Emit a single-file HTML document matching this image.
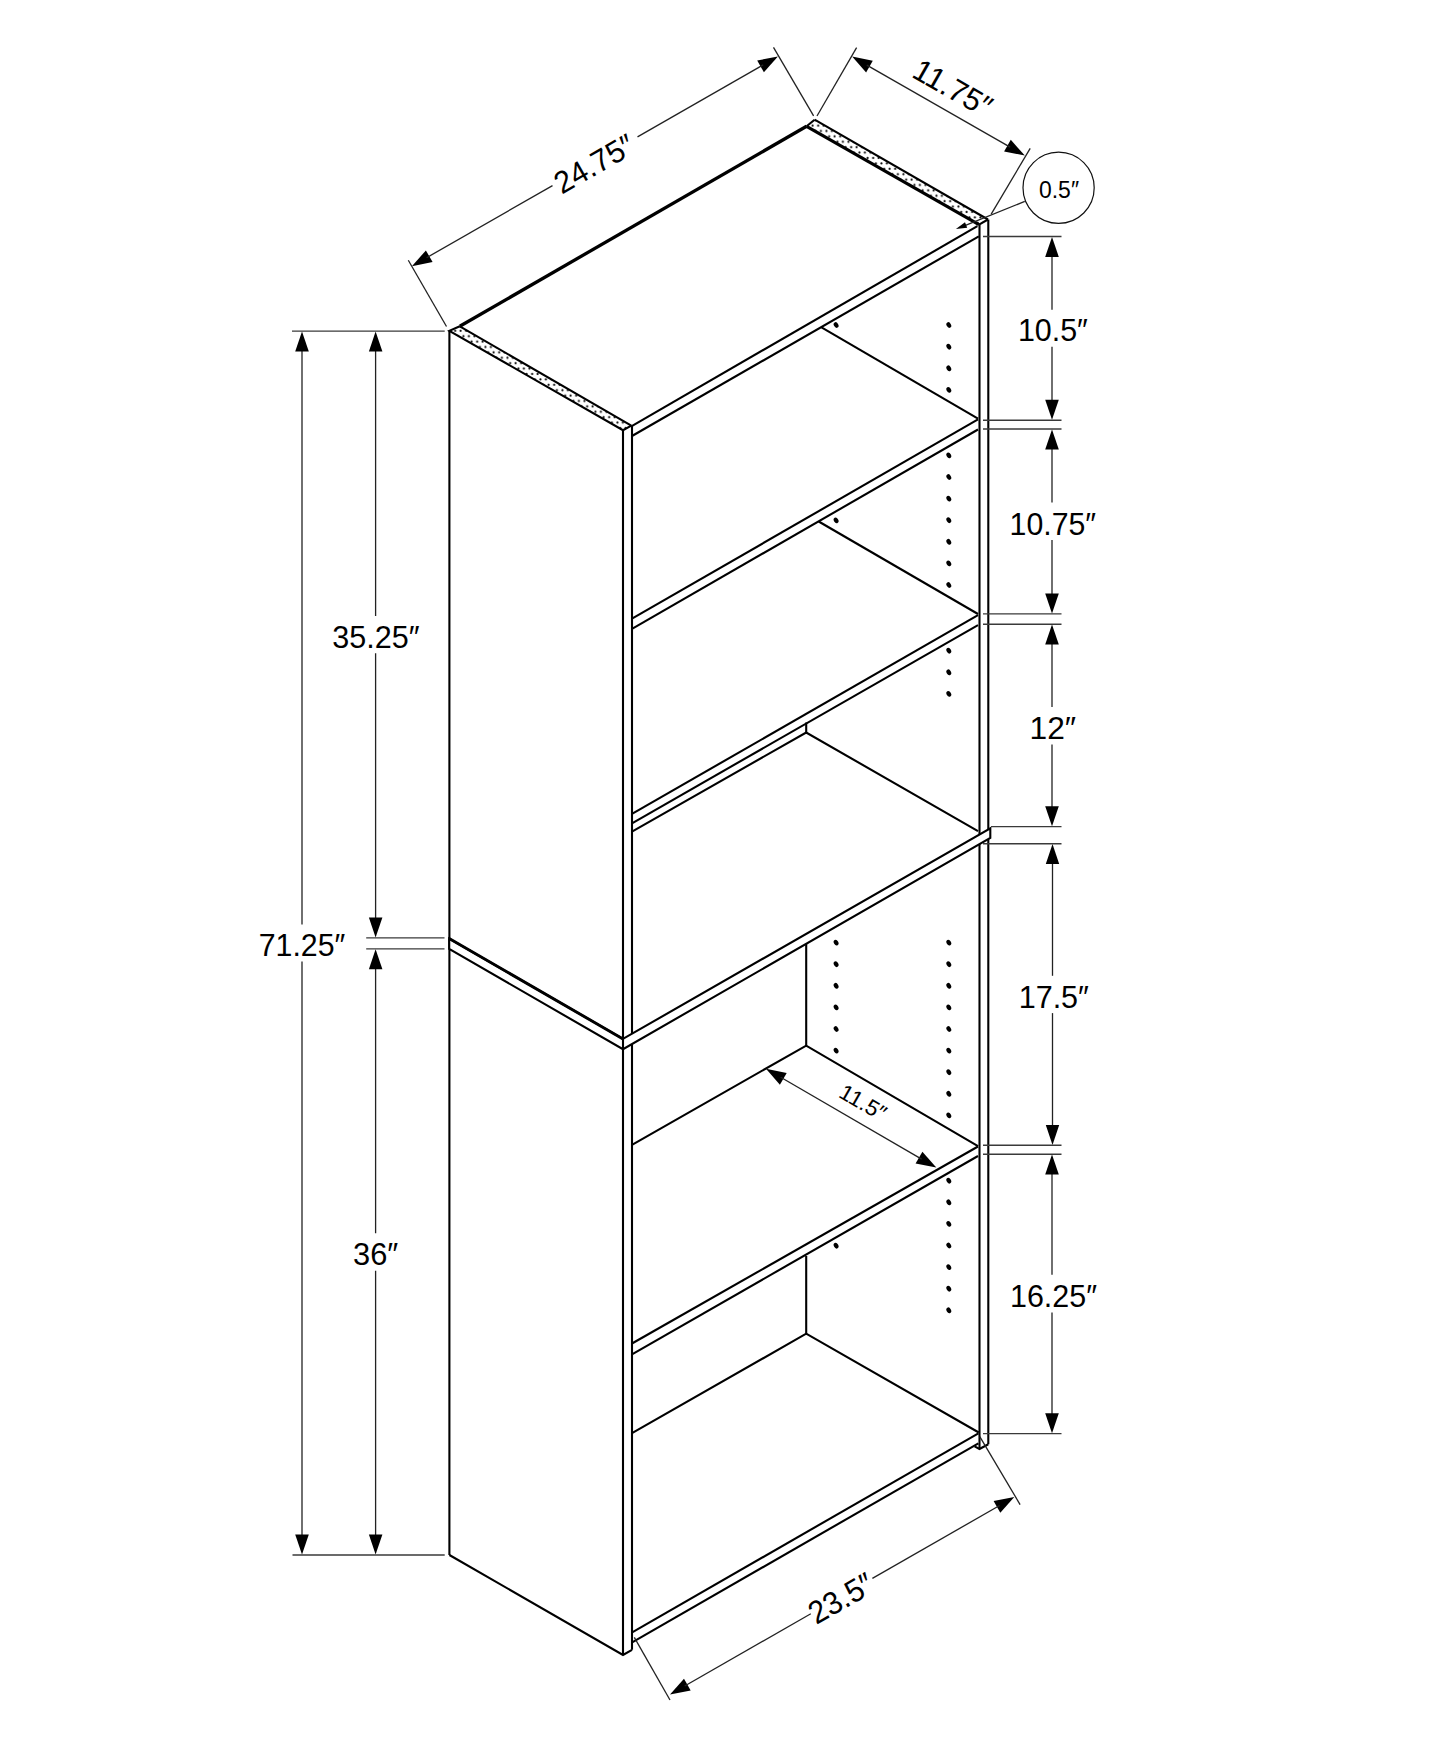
<!DOCTYPE html>
<html><head><meta charset="utf-8"><style>
html,body{margin:0;padding:0;background:#fff;}
svg{display:block;}
text{font-family:"Liberation Sans",sans-serif;fill:#000;}
</style></head><body>
<svg width="1445" height="1755" viewBox="0 0 1445 1755">
<rect width="1445" height="1755" fill="#fff"/>
<path d="M459.8,326.3 L449.4,330.8 L623.0,430.2 L631.3,425.7" fill="none" stroke="#000" stroke-width="2.1" stroke-linejoin="miter"/>
<line x1="459.8" y1="326.3" x2="631.3" y2="425.7" stroke="#000" stroke-width="2.1"/>
<line x1="814.6" y1="119.7" x2="988.0" y2="219.5" stroke="#000" stroke-width="2.1"/>
<line x1="806.6" y1="126.3" x2="979.0" y2="224.7" stroke="#000" stroke-width="3.2"/>
<line x1="806.6" y1="126.3" x2="814.6" y2="119.7" stroke="#000" stroke-width="2.1"/>
<line x1="979.0" y1="224.7" x2="988.0" y2="219.5" stroke="#000" stroke-width="2.1"/>
<line x1="459.8" y1="326.3" x2="806.6" y2="126.3" stroke="#000" stroke-width="3.3"/>
<defs><pattern id="dp" patternUnits="userSpaceOnUse" width="5.5" height="10.8" x="0" y="0"><circle cx="1.4" cy="1.4" r="1.05" fill="#000"/><circle cx="4.15" cy="6.8" r="1.05" fill="#000"/></pattern></defs>
<path d="M459.8,326.3 L631.3,425.7 L623.0,430.2 L449.4,330.8 Z" fill="url(#dp)" stroke="none"/>
<path d="M814.6,119.7 L988.0,219.5 L979.0,224.7 L806.6,126.3 Z" fill="url(#dp)" stroke="none"/>
<line x1="449.4" y1="330.8" x2="449.4" y2="1555.0" stroke="#000" stroke-width="2.1"/>
<path d="M449.4,1555.0 L623.0,1655.0 L632.0,1649.8" fill="none" stroke="#000" stroke-width="2.1" stroke-linejoin="miter"/>
<line x1="623.0" y1="430.2" x2="623.0" y2="1655.0" stroke="#000" stroke-width="2.1"/>
<line x1="632.0" y1="425.7" x2="632.0" y2="1649.8" stroke="#000" stroke-width="2.1"/>
<line x1="979.5" y1="224.7" x2="979.5" y2="1449.0" stroke="#000" stroke-width="2.1"/>
<line x1="988.3" y1="219.5" x2="988.3" y2="1444.3" stroke="#000" stroke-width="2.1"/>
<path d="M974.6,1446.4 L979.5,1449.0 L988.3,1444.3" fill="none" stroke="#000" stroke-width="2.1" stroke-linejoin="miter"/>
<line x1="631.3" y1="426.3" x2="977.4" y2="226.2" stroke="#000" stroke-width="2.1"/>
<line x1="632.0" y1="436.0" x2="978.8" y2="236.4" stroke="#000" stroke-width="2.1"/>
<line x1="632.0" y1="618.7" x2="978.0" y2="419.4" stroke="#000" stroke-width="2.1"/>
<line x1="632.0" y1="628.9" x2="978.0" y2="429.5" stroke="#000" stroke-width="2.1"/>
<line x1="821.5" y1="327.3" x2="978.0" y2="418.7" stroke="#000" stroke-width="2.1"/>
<line x1="632.0" y1="813.9" x2="978.0" y2="615.2" stroke="#000" stroke-width="2.1"/>
<line x1="632.0" y1="823.3" x2="978.0" y2="625.2" stroke="#000" stroke-width="2.1"/>
<line x1="818.7" y1="521.5" x2="978.0" y2="614.0" stroke="#000" stroke-width="2.1"/>
<path d="M632.0,831.6 L806.2,732.5 L978.0,831.1" fill="none" stroke="#000" stroke-width="2.1" stroke-linejoin="miter"/>
<line x1="806.2" y1="722.5" x2="806.2" y2="732.9" stroke="#000" stroke-width="2.1"/>
<path d="M449.2,938.6 L623,1038.9 L990.3,828.3 L990.3,838 L623,1049.2 L449.2,949 Z" fill="#fff" stroke="#000" stroke-width="2.1" stroke-linejoin="miter"/>
<line x1="623.0" y1="1038.9" x2="623.0" y2="1049.2" stroke="#000" stroke-width="2.1"/>
<line x1="449.2" y1="938.6" x2="623.0" y2="1038.9" stroke="#000" stroke-width="2.9"/>
<line x1="806.2" y1="944.0" x2="806.2" y2="1045.6" stroke="#000" stroke-width="2.1"/>
<path d="M632.0,1144.8 L806.2,1045.6 L978.0,1146.1" fill="none" stroke="#000" stroke-width="2.1" stroke-linejoin="miter"/>
<line x1="632.0" y1="1343.5" x2="978.0" y2="1146.5" stroke="#000" stroke-width="2.1"/>
<line x1="632.0" y1="1354.4" x2="978.0" y2="1156.0" stroke="#000" stroke-width="2.1"/>
<line x1="806.2" y1="1256.0" x2="806.2" y2="1333.7" stroke="#000" stroke-width="2.1"/>
<path d="M632.0,1433.2 L806.2,1333.7 L978.8,1432.5" fill="none" stroke="#000" stroke-width="2.1" stroke-linejoin="miter"/>
<line x1="632.6" y1="1632.1" x2="978.4" y2="1433.3" stroke="#000" stroke-width="2.1"/>
<line x1="632.6" y1="1642.1" x2="978.4" y2="1443.3" stroke="#000" stroke-width="2.1"/>
<ellipse cx="948.8" cy="325.0" rx="2.2" ry="3.0" transform="rotate(-30 948.8 325.0)" fill="#000"/>
<ellipse cx="948.8" cy="346.7" rx="2.2" ry="3.0" transform="rotate(-30 948.8 346.7)" fill="#000"/>
<ellipse cx="948.8" cy="368.3" rx="2.2" ry="3.0" transform="rotate(-30 948.8 368.3)" fill="#000"/>
<ellipse cx="948.8" cy="389.9" rx="2.2" ry="3.0" transform="rotate(-30 948.8 389.9)" fill="#000"/>
<ellipse cx="836.1" cy="325.0" rx="2.2" ry="3.0" transform="rotate(-30 836.1 325.0)" fill="#000"/>
<ellipse cx="948.8" cy="455.4" rx="2.2" ry="3.0" transform="rotate(-30 948.8 455.4)" fill="#000"/>
<ellipse cx="948.8" cy="477.0" rx="2.2" ry="3.0" transform="rotate(-30 948.8 477.0)" fill="#000"/>
<ellipse cx="948.8" cy="498.6" rx="2.2" ry="3.0" transform="rotate(-30 948.8 498.6)" fill="#000"/>
<ellipse cx="948.8" cy="520.2" rx="2.2" ry="3.0" transform="rotate(-30 948.8 520.2)" fill="#000"/>
<ellipse cx="948.8" cy="541.8" rx="2.2" ry="3.0" transform="rotate(-30 948.8 541.8)" fill="#000"/>
<ellipse cx="948.8" cy="563.4" rx="2.2" ry="3.0" transform="rotate(-30 948.8 563.4)" fill="#000"/>
<ellipse cx="948.8" cy="585.0" rx="2.2" ry="3.0" transform="rotate(-30 948.8 585.0)" fill="#000"/>
<ellipse cx="836.1" cy="520.4" rx="2.2" ry="3.0" transform="rotate(-30 836.1 520.4)" fill="#000"/>
<ellipse cx="948.8" cy="650.7" rx="2.2" ry="3.0" transform="rotate(-30 948.8 650.7)" fill="#000"/>
<ellipse cx="948.8" cy="672.3" rx="2.2" ry="3.0" transform="rotate(-30 948.8 672.3)" fill="#000"/>
<ellipse cx="948.8" cy="693.9" rx="2.2" ry="3.0" transform="rotate(-30 948.8 693.9)" fill="#000"/>
<ellipse cx="836.1" cy="942.6" rx="2.2" ry="3.0" transform="rotate(-30 836.1 942.6)" fill="#000"/>
<ellipse cx="836.1" cy="964.2" rx="2.2" ry="3.0" transform="rotate(-30 836.1 964.2)" fill="#000"/>
<ellipse cx="836.1" cy="985.8" rx="2.2" ry="3.0" transform="rotate(-30 836.1 985.8)" fill="#000"/>
<ellipse cx="836.1" cy="1007.4" rx="2.2" ry="3.0" transform="rotate(-30 836.1 1007.4)" fill="#000"/>
<ellipse cx="836.1" cy="1029.0" rx="2.2" ry="3.0" transform="rotate(-30 836.1 1029.0)" fill="#000"/>
<ellipse cx="836.1" cy="1050.6" rx="2.2" ry="3.0" transform="rotate(-30 836.1 1050.6)" fill="#000"/>
<ellipse cx="948.8" cy="942.6" rx="2.2" ry="3.0" transform="rotate(-30 948.8 942.6)" fill="#000"/>
<ellipse cx="948.8" cy="964.2" rx="2.2" ry="3.0" transform="rotate(-30 948.8 964.2)" fill="#000"/>
<ellipse cx="948.8" cy="985.8" rx="2.2" ry="3.0" transform="rotate(-30 948.8 985.8)" fill="#000"/>
<ellipse cx="948.8" cy="1007.4" rx="2.2" ry="3.0" transform="rotate(-30 948.8 1007.4)" fill="#000"/>
<ellipse cx="948.8" cy="1029.0" rx="2.2" ry="3.0" transform="rotate(-30 948.8 1029.0)" fill="#000"/>
<ellipse cx="948.8" cy="1050.6" rx="2.2" ry="3.0" transform="rotate(-30 948.8 1050.6)" fill="#000"/>
<ellipse cx="948.8" cy="1072.2" rx="2.2" ry="3.0" transform="rotate(-30 948.8 1072.2)" fill="#000"/>
<ellipse cx="948.8" cy="1093.8" rx="2.2" ry="3.0" transform="rotate(-30 948.8 1093.8)" fill="#000"/>
<ellipse cx="948.8" cy="1115.4" rx="2.2" ry="3.0" transform="rotate(-30 948.8 1115.4)" fill="#000"/>
<ellipse cx="948.8" cy="1180.7" rx="2.2" ry="3.0" transform="rotate(-30 948.8 1180.7)" fill="#000"/>
<ellipse cx="948.8" cy="1202.3" rx="2.2" ry="3.0" transform="rotate(-30 948.8 1202.3)" fill="#000"/>
<ellipse cx="948.8" cy="1223.9" rx="2.2" ry="3.0" transform="rotate(-30 948.8 1223.9)" fill="#000"/>
<ellipse cx="948.8" cy="1245.5" rx="2.2" ry="3.0" transform="rotate(-30 948.8 1245.5)" fill="#000"/>
<ellipse cx="948.8" cy="1267.1" rx="2.2" ry="3.0" transform="rotate(-30 948.8 1267.1)" fill="#000"/>
<ellipse cx="948.8" cy="1288.7" rx="2.2" ry="3.0" transform="rotate(-30 948.8 1288.7)" fill="#000"/>
<ellipse cx="948.8" cy="1310.3" rx="2.2" ry="3.0" transform="rotate(-30 948.8 1310.3)" fill="#000"/>
<ellipse cx="836.1" cy="1245.7" rx="2.2" ry="3.0" transform="rotate(-30 836.1 1245.7)" fill="#000"/>
<line x1="292.0" y1="331.1" x2="444.7" y2="331.1" stroke="#3a3a3a" stroke-width="1.4"/>
<line x1="366.2" y1="937.9" x2="444.5" y2="937.9" stroke="#3a3a3a" stroke-width="1.4"/>
<line x1="366.2" y1="948.9" x2="444.5" y2="948.9" stroke="#3a3a3a" stroke-width="1.4"/>
<line x1="292.5" y1="1555.0" x2="444.7" y2="1555.0" stroke="#3a3a3a" stroke-width="1.4"/>
<line x1="302.0" y1="346.5" x2="302.0" y2="924.4" stroke="#222" stroke-width="1.3"/>
<line x1="302.0" y1="961.5" x2="302.0" y2="1539.5" stroke="#222" stroke-width="1.3"/>
<path d="M302.0,331.5 L308.8,351.5 L295.2,351.5 Z" fill="#000"/>
<path d="M302.0,1554.5 L295.2,1534.5 L308.8,1534.5 Z" fill="#000"/>
<line x1="375.6" y1="346.5" x2="375.6" y2="615.9" stroke="#222" stroke-width="1.3"/>
<line x1="375.6" y1="653.2" x2="375.6" y2="922.5" stroke="#222" stroke-width="1.3"/>
<path d="M375.6,331.5 L382.4,351.5 L368.9,351.5 Z" fill="#000"/>
<path d="M375.6,937.5 L368.9,917.5 L382.4,917.5 Z" fill="#000"/>
<line x1="375.6" y1="964.3" x2="375.6" y2="1233.3" stroke="#222" stroke-width="1.3"/>
<line x1="375.6" y1="1270.7" x2="375.6" y2="1539.5" stroke="#222" stroke-width="1.3"/>
<path d="M375.6,949.3 L382.4,969.3 L368.9,969.3 Z" fill="#000"/>
<path d="M375.6,1554.5 L368.9,1534.5 L382.4,1534.5 Z" fill="#000"/>
<text x="302.0" y="945.6" font-size="31" text-anchor="middle" dominant-baseline="central" textLength="86.6" lengthAdjust="spacingAndGlyphs">71.25″</text>
<text x="376.0" y="637.7" font-size="31" text-anchor="middle" dominant-baseline="central" textLength="87.3" lengthAdjust="spacingAndGlyphs">35.25″</text>
<text x="375.7" y="1254.0" font-size="31" text-anchor="middle" dominant-baseline="central" textLength="45.2" lengthAdjust="spacingAndGlyphs">36″</text>
<line x1="983.0" y1="236.5" x2="1061.5" y2="236.5" stroke="#3a3a3a" stroke-width="1.4"/>
<line x1="983.0" y1="420.2" x2="1061.5" y2="420.2" stroke="#3a3a3a" stroke-width="1.4"/>
<line x1="983.0" y1="429.0" x2="1061.5" y2="429.0" stroke="#3a3a3a" stroke-width="1.4"/>
<line x1="983.0" y1="613.9" x2="1061.5" y2="613.9" stroke="#3a3a3a" stroke-width="1.4"/>
<line x1="983.0" y1="624.2" x2="1061.5" y2="624.2" stroke="#3a3a3a" stroke-width="1.4"/>
<line x1="983.0" y1="843.7" x2="1061.5" y2="843.7" stroke="#3a3a3a" stroke-width="1.4"/>
<line x1="983.0" y1="1145.3" x2="1061.5" y2="1145.3" stroke="#3a3a3a" stroke-width="1.4"/>
<line x1="983.0" y1="1154.2" x2="1061.5" y2="1154.2" stroke="#3a3a3a" stroke-width="1.4"/>
<line x1="983.0" y1="1433.6" x2="1061.5" y2="1433.6" stroke="#3a3a3a" stroke-width="1.4"/>
<line x1="991.0" y1="826.6" x2="1061.5" y2="826.6" stroke="#3a3a3a" stroke-width="1.4"/>
<line x1="1052.0" y1="251.9" x2="1052.0" y2="309.7" stroke="#222" stroke-width="1.3"/>
<line x1="1052.0" y1="346.7" x2="1052.0" y2="404.8" stroke="#222" stroke-width="1.3"/>
<path d="M1052.0,236.9 L1058.8,256.9 L1045.2,256.9 Z" fill="#000"/>
<path d="M1052.0,419.8 L1045.2,399.8 L1058.8,399.8 Z" fill="#000"/>
<line x1="1052.0" y1="444.4" x2="1052.0" y2="502.5" stroke="#222" stroke-width="1.3"/>
<line x1="1052.0" y1="540.1" x2="1052.0" y2="598.5" stroke="#222" stroke-width="1.3"/>
<path d="M1052.0,429.4 L1058.8,449.4 L1045.2,449.4 Z" fill="#000"/>
<path d="M1052.0,613.5 L1045.2,593.5 L1058.8,593.5 Z" fill="#000"/>
<line x1="1052.0" y1="639.6" x2="1052.0" y2="707.0" stroke="#222" stroke-width="1.3"/>
<line x1="1052.0" y1="744.6" x2="1052.0" y2="811.2" stroke="#222" stroke-width="1.3"/>
<path d="M1052.0,624.6 L1058.8,644.6 L1045.2,644.6 Z" fill="#000"/>
<path d="M1052.0,826.2 L1045.2,806.2 L1058.8,806.2 Z" fill="#000"/>
<line x1="1052.5" y1="859.1" x2="1052.5" y2="975.8" stroke="#222" stroke-width="1.3"/>
<line x1="1052.5" y1="1013.1" x2="1052.5" y2="1129.9" stroke="#222" stroke-width="1.3"/>
<path d="M1052.5,844.1 L1059.2,864.1 L1045.8,864.1 Z" fill="#000"/>
<path d="M1052.5,1144.9 L1045.8,1124.9 L1059.2,1124.9 Z" fill="#000"/>
<line x1="1052.0" y1="1169.6" x2="1052.0" y2="1274.8" stroke="#222" stroke-width="1.3"/>
<line x1="1052.0" y1="1312.5" x2="1052.0" y2="1418.2" stroke="#222" stroke-width="1.3"/>
<path d="M1052.0,1154.6 L1058.8,1174.6 L1045.2,1174.6 Z" fill="#000"/>
<path d="M1052.0,1433.2 L1045.2,1413.2 L1058.8,1413.2 Z" fill="#000"/>
<text x="1052.9" y="330.4" font-size="31" text-anchor="middle" dominant-baseline="central" textLength="70" lengthAdjust="spacingAndGlyphs">10.5″</text>
<text x="1052.8" y="524.5" font-size="31" text-anchor="middle" dominant-baseline="central" textLength="86.5" lengthAdjust="spacingAndGlyphs">10.75″</text>
<text x="1052.8" y="728.6" font-size="31" text-anchor="middle" dominant-baseline="central" textLength="46.5" lengthAdjust="spacingAndGlyphs">12″</text>
<text x="1053.8" y="997.2" font-size="31" text-anchor="middle" dominant-baseline="central" textLength="70.3" lengthAdjust="spacingAndGlyphs">17.5″</text>
<text x="1053.5" y="1296.3" font-size="31" text-anchor="middle" dominant-baseline="central" textLength="87" lengthAdjust="spacingAndGlyphs">16.25″</text>
<line x1="773.5" y1="47.4" x2="813.6" y2="115.9" stroke="#222" stroke-width="1.3"/>
<line x1="408.3" y1="260.2" x2="446.5" y2="326.5" stroke="#222" stroke-width="1.3"/>
<path d="M411.9,266.2 L425.9,250.4 L432.6,262.1 Z" fill="#000"/>
<path d="M777.9,56.4 L763.9,72.2 L757.2,60.5 Z" fill="#000"/>
<line x1="426.6" y1="257.7" x2="552.5" y2="185.6" stroke="#222" stroke-width="1.3"/>
<line x1="637.5" y1="136.9" x2="763.2" y2="64.9" stroke="#222" stroke-width="1.3"/>
<text x="594.4" y="164.0" font-size="31" text-anchor="middle" dominant-baseline="central" textLength="87" lengthAdjust="spacingAndGlyphs" transform="rotate(-29.8 594.4 164.0)">24.75″</text>
<line x1="856.6" y1="47.6" x2="817.0" y2="116.0" stroke="#222" stroke-width="1.3"/>
<line x1="1030.2" y1="148.4" x2="991.2" y2="214.1" stroke="#222" stroke-width="1.3"/>
<path d="M852.1,56.6 L872.8,60.7 L866.1,72.4 Z" fill="#000"/>
<path d="M1024.8,155.6 L1004.1,151.5 L1010.8,139.8 Z" fill="#000"/>
<line x1="866.8" y1="65.1" x2="1010.1" y2="147.1" stroke="#222" stroke-width="1.3"/>
<text x="952.6" y="88.2" font-size="31" text-anchor="middle" dominant-baseline="central" textLength="85" lengthAdjust="spacingAndGlyphs" transform="rotate(29.8 952.6 88.2)">11.75″</text>
<circle cx="1058.6" cy="187.8" r="35.6" fill="none" stroke="#111" stroke-width="1.2"/>
<text x="1059.0" y="190.1" font-size="23.3" text-anchor="middle" dominant-baseline="central" textLength="40" lengthAdjust="spacingAndGlyphs">0.5″</text>
<line x1="1024.8" y1="201.4" x2="963.0" y2="226.3" stroke="#222" stroke-width="1.3"/>
<path d="M955.9,229.1 L965.0,222.2 L967.2,227.7 Z" fill="#000"/>
<path d="M766.0,1068.8 L786.7,1073.0 L779.9,1084.7 Z" fill="#000"/>
<path d="M936.3,1167.6 L915.6,1163.4 L922.4,1151.7 Z" fill="#000"/>
<line x1="780.7" y1="1077.3" x2="921.6" y2="1159.1" stroke="#222" stroke-width="1.3"/>
<text x="863.0" y="1102.6" font-size="22" text-anchor="middle" dominant-baseline="central" textLength="50" lengthAdjust="spacingAndGlyphs" transform="rotate(30 863.0 1102.6)">11.5″</text>
<line x1="634.3" y1="1637.4" x2="670.0" y2="1700.0" stroke="#222" stroke-width="1.3"/>
<line x1="979.8" y1="1436.7" x2="1020.1" y2="1504.6" stroke="#222" stroke-width="1.3"/>
<path d="M670.0,1694.5 L684.0,1678.7 L690.7,1690.4 Z" fill="#000"/>
<path d="M1014.3,1497.0 L1000.3,1512.8 L993.6,1501.1 Z" fill="#000"/>
<line x1="684.7" y1="1686.0" x2="810.8" y2="1613.7" stroke="#222" stroke-width="1.3"/>
<line x1="872.4" y1="1578.4" x2="999.6" y2="1505.5" stroke="#222" stroke-width="1.3"/>
<text x="840.9" y="1598.3" font-size="32" text-anchor="middle" dominant-baseline="central" textLength="69.5" lengthAdjust="spacingAndGlyphs" transform="rotate(-29.8 840.9 1598.3)">23.5″</text>
</svg>
</body></html>
